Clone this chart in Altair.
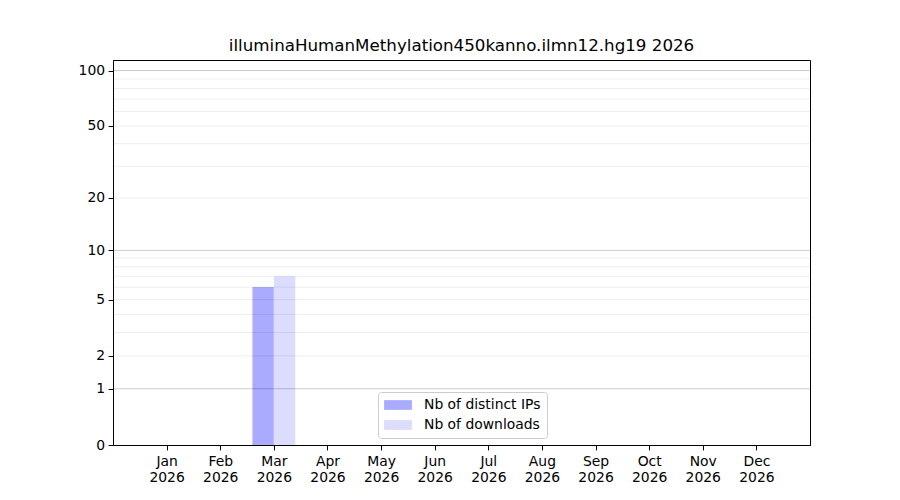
import altair as alt
import pandas as pd

months = ["Jan", "Feb", "Mar", "Apr", "May", "Jun", "Jul", "Aug", "Sep", "Oct", "Nov", "Dec"]
year_label = "2026"
series_names = ["Nb of distinct IPs", "Nb of downloads"]
distinct_ips = [0, 0, 6, 0, 0, 0, 0, 0, 0, 0, 0, 0]
downloads = [0, 0, 7, 0, 0, 0, 0, 0, 0, 0, 0, 0]
y_ticks = [0, 1, 2, 5, 10, 20, 50, 100]
major_grid = [1, 10, 100]
minor_grid = [2, 3, 4, 5, 6, 7, 8, 9, 20, 30, 40, 50, 60, 70, 80, 90]
title_text = "illuminaHumanMethylation450kanno.ilmn12.hg19 2026"

rows = []
for i, m in enumerate(months):
    rows.append({"m": i, "series": series_names[0], "value": distinct_ips[i], "side": 0})
    rows.append({"m": i, "series": series_names[1], "value": downloads[i], "side": 1})
df = pd.DataFrame(rows)

FONT = "DejaVu Sans"
FS = 13.9

xscale = alt.Scale(domain=[-1, 12], nice=False, zero=False)
yscale = alt.Scale(type="symlog", constant=1, domain=[0, 114], nice=False)

label_arr = "[" + ",".join(f"'{m}'" for m in months) + "]"
xaxis = alt.Axis(
    values=list(range(12)),
    labelExpr=f"[{label_arr}[datum.value], '{year_label}']",
    grid=False, title=None, labelFont=FONT, labelFontSize=FS, labelColor="black",
    tickColor="black", tickSize=4.9, labelPadding=5, domainColor="black",
    labelLineHeight=16, labelAngle=0,
)
yaxis = alt.Axis(
    values=y_ticks, format="d", grid=False, title=None, labelFont=FONT, labelFontSize=FS,
    labelColor="black", tickColor="black", tickSize=4.9, labelPadding=3.5,
    domainColor="black",
)

bars = alt.Chart(df).transform_calculate(
    x0="datum.m - 0.4 + datum.side * 0.4",
    x1="datum.m + datum.side * 0.4",
).mark_bar(stroke=None).encode(
    x=alt.X("x0:Q", scale=xscale, axis=xaxis),
    x2="x1:Q",
    y=alt.Y("value:Q", scale=yscale, axis=yaxis),
    y2=alt.datum(0),
    color=alt.Color(
        "series:N",
        scale=alt.Scale(domain=series_names, range=["#aaaaff", "#dcdcff"]),
        legend=alt.Legend(
            title=None, orient="none", legendX=265, legendY=332,
            symbolType="M-2,-0.7H2V0.7H-2Z", symbolSize=193, symbolStrokeWidth=0,
            symbolOpacity=1, symbolOffset=7, labelFont=FONT, labelFontSize=FS,
            labelColor="black", labelOffset=19, rowPadding=6, padding=6,
            fillColor="white", strokeColor="#cccccc", cornerRadius=3,
        ),
    ),
)

minor = alt.Chart(pd.DataFrame({"g": minor_grid})).mark_rule(
    color="black", opacity=0.07, strokeWidth=1
).encode(y=alt.Y("g:Q", scale=yscale, axis=yaxis))

major = alt.Chart(pd.DataFrame({"g": major_grid})).mark_rule(
    color="black", opacity=0.2, strokeWidth=1
).encode(y=alt.Y("g:Q", scale=yscale, axis=yaxis))

chart = alt.layer(bars, minor, major).properties(
    width=697, height=385,
    title=alt.Title(title_text, font=FONT, fontSize=16.7, fontWeight="normal",
                    color="black", anchor="middle", offset=5),
    autosize=alt.AutoSizeParams(type="none"),
    padding={"left": 105, "top": 52, "right": 80, "bottom": 40},
).configure_view(stroke="black", strokeWidth=1)

chart.save("out.html", embed_options={"renderer": "svg", "actions": False})
